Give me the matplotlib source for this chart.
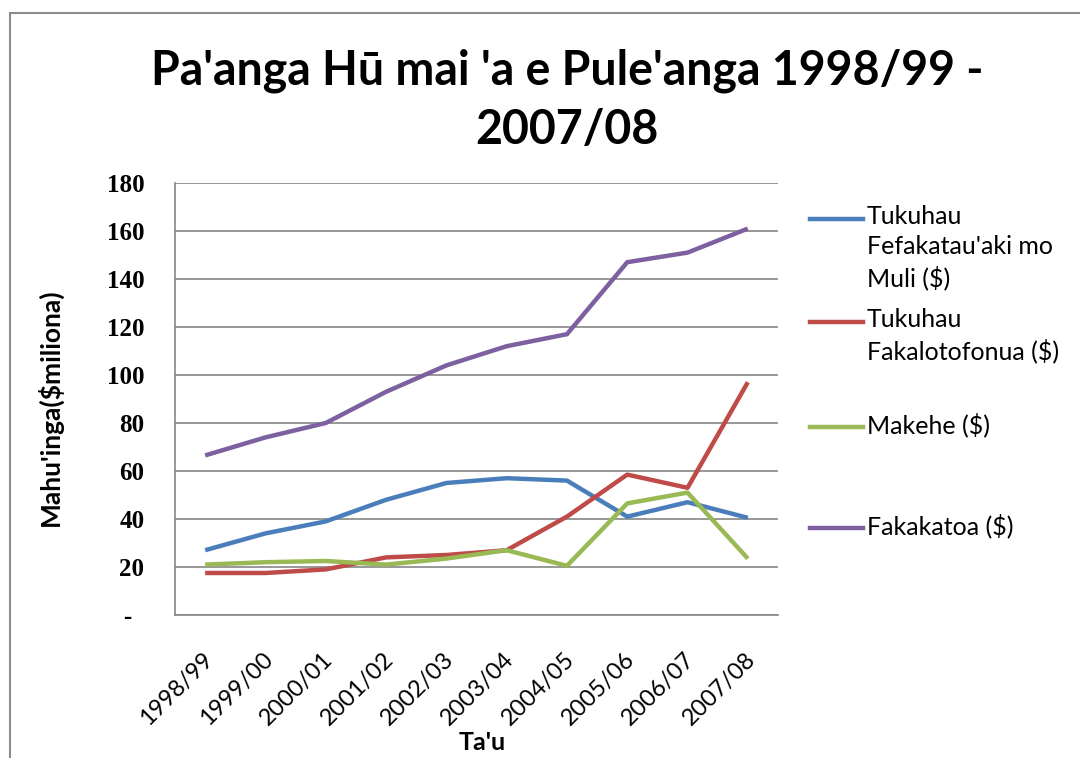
import matplotlib
matplotlib.use("Agg")
import matplotlib.pyplot as plt
import matplotlib.transforms as mtransforms
from matplotlib.lines import Line2D
from matplotlib.patches import Rectangle

plt.rcParams['font.family'] = ['Lato', 'DejaVu Sans']

years = ["1998/99", "1999/00", "2000/01", "2001/02", "2002/03",
         "2003/04", "2004/05", "2005/06", "2006/07", "2007/08"]
tukuhau_muli = [27, 34, 39, 48, 55, 57, 56, 41, 47, 40.5]
tukuhau_fonua = [17.5, 17.5, 19, 24, 25, 27, 41, 58.5, 53, 97]
makehe = [21, 22, 22.5, 21, 23.5, 27, 20.5, 46.5, 51, 23.5]
fakakatoa = [66.5, 74, 80, 93, 104, 112, 117, 147, 151, 161]

series_labels = ["Tukuhau\nFefakatau'aki mo\nMuli ($)",
                 "Tukuhau\nFakalotofonua ($)",
                 "Makehe ($)",
                 "Fakakatoa ($)"]
series_values = [tukuhau_muli, tukuhau_fonua, makehe, fakakatoa]
colors = ["#4A7EBB", "#BE4B48", "#98B954", "#7D60A0"]
yticks = [0, 20, 40, 60, 80, 100, 120, 140, 160, 180]
ytick_labels = ["-  ", "20", "40", "60", "80", "100", "120", "140", "160", "180"]

W, H = 1080, 758
fig = plt.figure(figsize=(W / 100, H / 100), dpi=100)

# chart border
fig.add_artist(Rectangle((10 / W, -0.1), 1.2, 1 - 13 / H + 0.1,
                         transform=fig.transFigure, fill=False,
                         edgecolor="#8C8C8C", linewidth=1.5))

ax = fig.add_axes([175 / W, 1 - 615 / H, 603 / W, 432 / H])
x = list(range(len(years)))
for vals, c in zip(series_values, colors):
    ax.plot(x, vals, color=c, linewidth=3.2, solid_capstyle='butt')

ax.set_xlim(-0.5, len(years) - 0.5)
ax.set_ylim(0, 180)
ax.set_yticks(yticks)
ax.set_yticklabels(ytick_labels, fontsize=18, fontweight='bold',
                   family=['Liberation Serif', 'DejaVu Serif'])
ax.set_xticks(x)
ax.set_xticklabels(years, fontsize=17, rotation=45, ha='right', va='center',
                   rotation_mode='anchor')
ax.tick_params(axis='y', length=0, pad=22)
ax.tick_params(axis='x', length=0, pad=0)
off = mtransforms.ScaledTranslation(4 / 100, -41 / 100, fig.dpi_scale_trans)
for lab in ax.get_xticklabels():
    lab.set_transform(lab.get_transform() + off)
ax.grid(axis='y', color="#868686", linewidth=1.2)
ax.set_axisbelow(True)
for s in ["top", "right"]:
    ax.spines[s].set_visible(False)
ax.spines["left"].set_color("#868686")
ax.spines["bottom"].set_color("#868686")
ax.spines["left"].set_linewidth(1.2)
ax.spines["bottom"].set_linewidth(1.2)

fig.text(50 / W, 1 - 407 / H, "Mahu'inga($miliona)", rotation=90,
         ha='center', va='center', fontsize=19, fontweight='bold')
fig.text(482 / W, 1 - 742 / H, "Ta'u", ha='center', va='center',
         fontsize=18, fontweight='bold')

fig.text(567 / W, 1 - 71 / H, "Pa'anga Hū mai 'a e Pule'anga 1998/99 -",
         ha='center', va='center', fontsize=33.5, fontweight='bold')
fig.text(567 / W, 1 - 130 / H, "2007/08",
         ha='center', va='center', fontsize=33.5, fontweight='bold')

# legend
leg_y = [219, 322, 427, 528]
for lab, c, yy in zip(series_labels, colors, leg_y):
    fig.add_artist(Line2D([810 / W, 863 / W], [1 - yy / H, 1 - yy / H],
                          transform=fig.transFigure, color=c, linewidth=3.2))
    fig.text(867 / W, 1 - (yy - 14) / H, lab, ha='left', va='top',
             fontsize=18, linespacing=1.38)

fig.savefig("out.png", dpi=100)
